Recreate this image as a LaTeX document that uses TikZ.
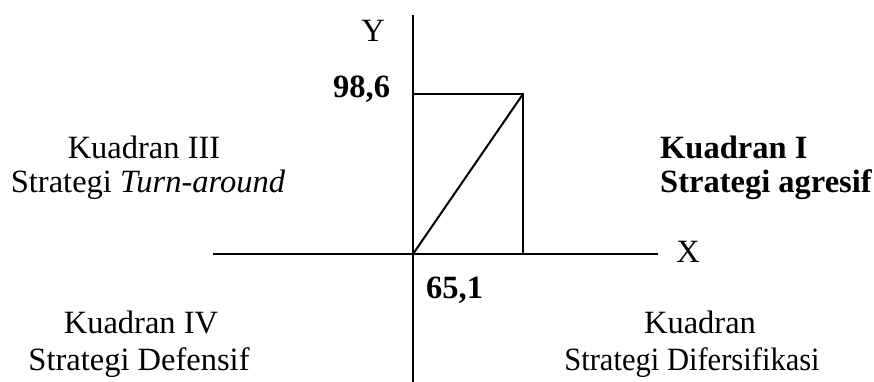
\documentclass[tikz,border=0pt]{standalone}
\usepackage{fontspec}
\setmainfont{Liberation Serif}
\usepackage{tikz}
\usetikzlibrary{positioning}

\tikzset{
  axis/.style={line width=2pt},
  label/.style={inner sep=0pt, font=\fontsize{32.5}{35}\selectfont},
  boldlabel/.style={label, font=\fontsize{32.5}{35}\selectfont\bfseries}
}

\begin{document}
\begin{tikzpicture}[x=1pt, y=-1pt]
    \useasboundingbox (0, 0) rectangle (874, 382);
    % axes
    \coordinate (O)  at (413, 254);
    \coordinate (xl) at (213, 254);
    \coordinate (xr) at (658, 254);
    \coordinate (yt) at (413, 15);
    \coordinate (yb) at (413, 382);
    \coordinate (P)  at (523, 94);
    \draw[axis] (xl) -- (xr);
    \draw[axis] (yt) -- (yb);
    \draw[axis] (O |- P) -- (P) -- (P |- O);
    \draw[axis] (O) -- (P);
    \node[label, anchor=base] (ylab) at (373, 42) {Y};
    \node[label, anchor=base] (xlab) at (688, 262) {X};
    \node[boldlabel, anchor=base west] (yval) at (333, 98) {98,6};
    \node[boldlabel, anchor=base west] (xval) at (426, 298) {65,1};
    % quadrants
    \node[boldlabel, anchor=base west] (q1a) at (660, 158) {Kuadran I};
    \node[boldlabel, anchor=base west] (q1b) at (660, 192) {Strategi agresif};
    \node[label, anchor=base] (q3a) at (144, 158) {Kuadran III};
    \node[label, anchor=base] (q3b) at (148, 192) {Strategi \textit{Turn-around}};
    \node[label, anchor=base] (q4a) at (141, 333) {Kuadran IV};
    \node[label, anchor=base] (q4b) at (139, 370) {Strategi Defensif};
    \node[label, anchor=base] (q2a) at (700, 333) {Kuadran};
    \node[label, anchor=base] (q2b) at (692, 370) {\scalebox{0.94}[1]{Strategi Difersifikasi}};
\end{tikzpicture}
\end{document}
